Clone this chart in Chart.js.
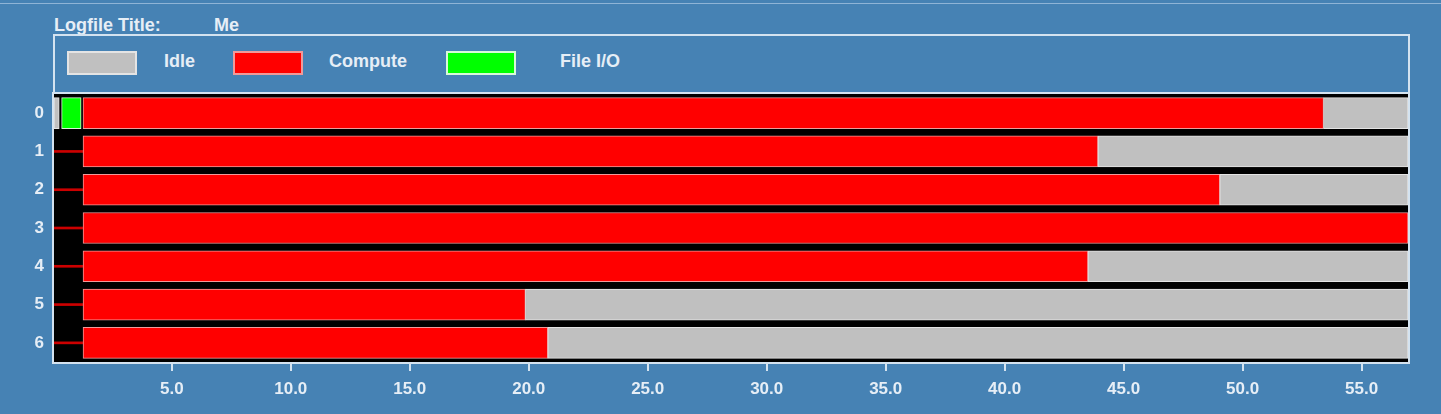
<!DOCTYPE html>
<html>
<head>
<meta charset="utf-8">
<script src="https://cdn.jsdelivr.net/npm/chart.js@4.4.1/dist/chart.umd.min.js"></script>
<style>
  body { margin: 0; background: #4682b4; }
  #wrap { position: relative; width: 1441px; height: 414px; overflow: hidden; }
  #timeline { position: absolute; left: 0; top: 0; }
  .txt { position: absolute; font: bold 18px "Liberation Sans", Arial, sans-serif; color: #e6eef6; white-space: nowrap; line-height: 20px; }
  #topline { position: absolute; left: 0; top: 3px; width: 1441px; height: 1px; background: #8fb4d6; }
  #legend { position: absolute; left: 53px; top: 34px; width: 1353px; height: 56px; border: 2px solid #d4e3f0; }
  .swatch { position: absolute; top: 15px; width: 66px; height: 20px; border: 2px solid #e4e4e4; }
</style>
</head>
<body>
<div id="wrap">
  <div id="topline"></div>
  <div class="txt" style="left:54px; top:15px;">Logfile Title:</div>
  <div class="txt" style="left:214px; top:15px;">Me</div>
  <div id="legend"></div>
  <canvas id="timeline" width="1441" height="414"></canvas>
</div>
<script>
// filas (procesos) y tiempos
var procesos = ['0', '1', '2', '3', '4', '5', '6'];
var ticksX = [5, 10, 15, 20, 25, 30, 35, 40, 45, 50, 55];

// estados [inicio, fin] por fila, null si no hay
var idleInicio = [[0.05, 0.27], null, null, null, null, null, null];
var idleFin    = [[53.4, 56.95], [43.92, 56.95], [49.04, 56.95], null, [43.5, 56.95], [19.86, 56.95], [20.8, 56.95]];
var compute    = [[1.27, 53.4], [1.27, 43.92], [1.27, 49.04], [1.27, 56.95], [1.27, 43.5], [1.27, 19.86], [1.27, 20.8]];
var fileIO     = [[0.37, 1.19], null, null, null, null, null, null];
var mensajes   = [null, [0.05, 1.27], [0.05, 1.27], [0.05, 1.27], [0.05, 1.27], [0.05, 1.27], [0.05, 1.27]];

var leyenda = ['Idle', 'Compute', 'File I/O'];
var colores = ['#c0c0c0', '#ff0000', '#00ff00'];
var bordes = ['#e4e4e4', '#f09a9a', '#d8f8d8'];

// leyenda en html
var cajaLeyenda = document.getElementById('legend');
var posSwatch = [12, 178, 391];
var posTexto = [109, 274, 505];
for (var i = 0; i < leyenda.length; i++) {
  var sw = document.createElement('div');
  sw.className = 'swatch';
  sw.style.left = posSwatch[i] + 'px';
  sw.style.background = colores[i];
  sw.style.borderColor = bordes[i];
  cajaLeyenda.appendChild(sw);
  var tx = document.createElement('div');
  tx.className = 'txt';
  tx.style.left = posTexto[i] + 'px';
  tx.style.top = '15px';
  tx.textContent = leyenda[i];
  cajaLeyenda.appendChild(tx);
}

var claro = '#d4e3f0';
var fondoNegro = {
  id: 'fondoNegro',
  beforeDatasetsDraw: function(chart) {
    var a = chart.chartArea, ctx = chart.ctx;
    ctx.save();
    ctx.fillStyle = '#000000';
    ctx.fillRect(a.left, a.top, a.right - a.left, a.bottom - a.top);
    ctx.restore();
  },
  afterDatasetsDraw: function(chart) {
    var a = chart.chartArea, ctx = chart.ctx;
    ctx.save();
    ctx.strokeStyle = claro;
    ctx.lineWidth = 2;
    ctx.strokeRect(a.left - 1, a.top - 1, a.right - a.left + 2, a.bottom - a.top + 2);
    ctx.restore();
  }
};

function barra(label, data, color, borde, grosor) {
  return {
    label: label,
    data: data,
    backgroundColor: color,
    borderColor: borde,
    borderWidth: grosor > 5 ? 1 : 0,
    borderSkipped: false,
    barThickness: grosor,
    grouped: false
  };
}

var config = {
  type: 'bar',
  data: {
    labels: procesos,
    datasets: [
      barra('Idle', idleFin, colores[0], bordes[0], 31),
      barra('Idle', idleInicio, colores[0], bordes[0], 31),
      barra('Compute', compute, colores[1], bordes[1], 31),
      barra('File I/O', fileIO, colores[2], bordes[2], 31),
      barra('Compute', mensajes, '#cc0000', '#cc0000', 2)
    ]
  },
  plugins: [fondoNegro],
  options: {
    indexAxis: 'y',
    responsive: false,
    animation: false,
    layout: { padding: { left: 0, top: 94, right: 33, bottom: 0 } },
    plugins: {
      legend: { display: false },
      tooltip: { enabled: false }
    },
    scales: {
      x: {
        type: 'linear',
        min: 0.05,
        max: 56.95,
        afterBuildTicks: function(scale) {
          scale.ticks = ticksX.map(function(v) { return { value: v }; });
        },
        afterFit: function(scale) { scale.height = 52; },
        grid: { drawOnChartArea: false, drawTicks: true, tickLength: 9, color: claro, lineWidth: 2 },
        border: { display: false },
        ticks: {
          autoSkip: false,
          maxRotation: 0,
          padding: 8,
          color: '#e6eef6',
          font: { family: '"Liberation Sans", Arial, sans-serif', size: 17, weight: 'bold' },
          callback: function(value) { return Number(value).toFixed(1); }
        }
      },
      y: {
        type: 'category',
        afterFit: function(scale) { scale.width = 54; },
        grid: { display: false, drawTicks: false },
        border: { display: false },
        ticks: {
          padding: 10,
          color: '#e6eef6',
          font: { family: '"Liberation Sans", Arial, sans-serif', size: 17, weight: 'bold' }
        }
      }
    }
  }
};

var ctx = document.getElementById('timeline');
window.miTimeline = new Chart(ctx, config);
</script>
</body>
</html>
